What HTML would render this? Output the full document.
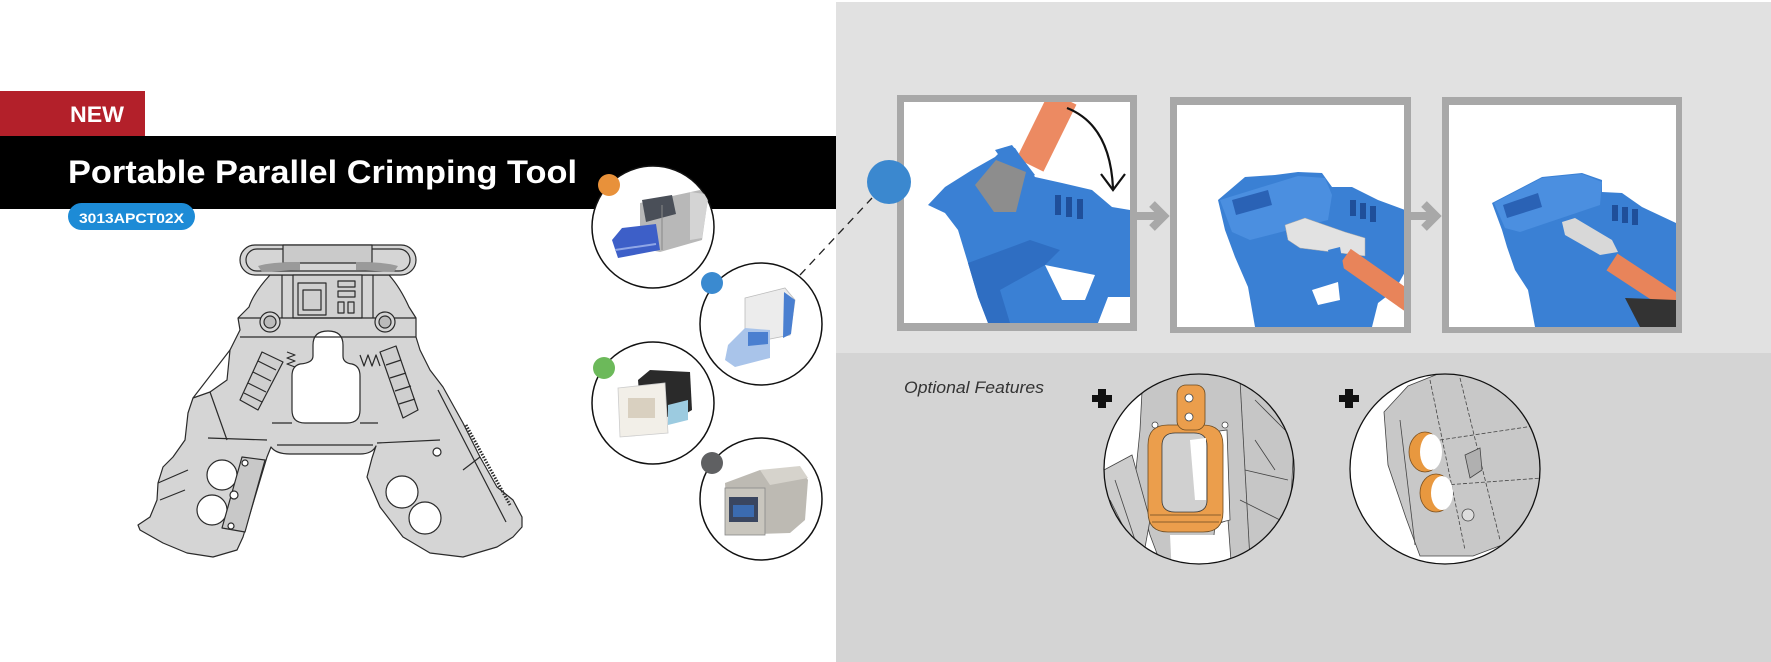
<!DOCTYPE html>
<html><head><meta charset="utf-8"><style>
html,body{margin:0;padding:0;background:#fff;}
svg{display:block;}
text{font-family:"Liberation Sans",sans-serif;}
</style></head><body>
<svg width="1771" height="662" viewBox="0 0 1771 662" xmlns="http://www.w3.org/2000/svg">
<defs>
<clipPath id="c1"><circle cx="653" cy="227" r="61"/></clipPath>
<clipPath id="c2"><circle cx="761" cy="324" r="61"/></clipPath>
<clipPath id="c3"><circle cx="653" cy="403" r="61"/></clipPath>
<clipPath id="c4"><circle cx="761" cy="499" r="61"/></clipPath>
<clipPath id="p1"><rect x="904" y="102" width="226" height="221"/></clipPath>
<clipPath id="p2"><rect x="1177" y="105" width="227" height="222"/></clipPath>
<clipPath id="p3"><rect x="1449" y="105" width="227" height="222"/></clipPath>
<clipPath id="oa"><circle cx="1199" cy="469" r="95"/></clipPath>
<clipPath id="ob"><circle cx="1445" cy="469" r="95"/></clipPath>
</defs>
<rect width="1771" height="662" fill="#fff"/>
<rect x="836" y="2" width="935" height="351" fill="#e1e1e1"/>
<rect x="836" y="353" width="935" height="309" fill="#d4d4d4"/>
<rect x="0" y="136" width="836" height="73" fill="#000"/>
<rect x="0" y="91" width="145" height="45" fill="#b3202a"/>
<text x="70" y="122" font-size="22" font-weight="bold" fill="#fff" textLength="54" lengthAdjust="spacingAndGlyphs">NEW</text>
<text x="68" y="183" font-size="32" font-weight="bold" fill="#fff" textLength="509" lengthAdjust="spacingAndGlyphs">Portable Parallel Crimping Tool</text>
<rect x="68" y="203" width="127" height="27" rx="13.5" fill="#1d8bd6"/>
<text x="79" y="223" font-size="14" font-weight="bold" fill="#fff" textLength="105" lengthAdjust="spacingAndGlyphs">3013APCT02X</text>

<!-- Tool drawing -->
<g stroke="#2a2a2a" stroke-width="1.2" stroke-linejoin="round" fill="#d5d5d5">
<path d="M270,275 C258,288 252,298 249,307 L238,318 L240,330 L230,350 L227,380 L210,392 L193,398 L188,413 L185,440 L173,457 L163,467 L158,483 L157,500 L150,517 L138,525 L140,530 L163,543 L187,553 L213,557 L237,550 L243,537 L267,457 L271,447 Q276,454 290,454 L360,454 Q372,454 376,446 L372,458 L367,477 L380,507 L403,537 L430,553 L463,557 L497,547 L513,537 L522,527 L522,517 L513,500 L497,487 L480,457 L463,423 L443,387 L430,370 L420,350 L416,337 L416,318 L409,307 C404,296 398,285 389,275 Z"/>
<path fill="#fff" d="M313,345 Q313,331 328,331 Q343,331 343,345 L343,356 Q343,363 352,364 Q360,366 360,376 L360,410 Q360,423 347,423 L305,423 Q292,423 292,410 L292,376 Q292,366 300,364 Q313,363 313,356 Z"/>
<rect x="240" y="245" width="176" height="30" rx="15"/>
<rect x="246" y="249" width="164" height="22" rx="11" fill="none"/>
<rect x="283" y="245" width="89" height="18" fill="#cacaca"/>
<path d="M258,266 Q270,262 300,262 L300,270 L262,272 Z M398,266 Q386,262 356,262 L356,270 L394,272 Z" fill="#9a9a9a" stroke="none"/>
<rect x="293" y="275" width="69" height="43" fill="#d0d0d0"/>
<rect x="298" y="283" width="28" height="32" fill="none"/>
<rect x="303" y="290" width="18" height="20" fill="none"/>
<rect x="338" y="281" width="17" height="6" fill="none"/>
<rect x="338" y="291" width="17" height="6" fill="none"/>
<rect x="338" y="302" width="6" height="11" fill="none"/>
<rect x="348" y="302" width="6" height="11" fill="none"/>
<line x1="282" y1="275" x2="282" y2="318"/>
<line x1="373" y1="275" x2="373" y2="318"/>
<line x1="238" y1="318" x2="416" y2="318"/>
<line x1="240" y1="337" x2="416" y2="337"/>
<circle cx="270" cy="322" r="10"/><circle cx="270" cy="322" r="6" fill="#bbb"/>
<circle cx="385" cy="322" r="10"/><circle cx="385" cy="322" r="6" fill="#bbb"/>
<line x1="277" y1="445" x2="373" y2="445"/>
<line x1="272" y1="423" x2="292" y2="423"/>
<line x1="360" y1="423" x2="378" y2="423"/>
<polygon points="262,352 283,362 258,410 240,400" fill="#cfcfcf"/>
<line x1="258" y1="361" x2="276" y2="370"/><line x1="253" y1="372" x2="271" y2="381"/><line x1="248" y1="383" x2="266" y2="392"/><line x1="244" y1="393" x2="262" y2="402"/>
<polygon points="380,352 396,346 418,410 403,418" fill="#cfcfcf"/>
<line x1="386" y1="365" x2="401" y2="360"/><line x1="390" y1="378" x2="406" y2="373"/><line x1="395" y1="391" x2="411" y2="386"/><line x1="399" y1="404" x2="415" y2="399"/>
<polyline points="287,352 295,355 287,358 295,361 287,364 295,367" fill="none"/>
<polyline points="360,355 364,366 368,355 372,366 376,355 380,366" fill="none"/>
<line x1="208" y1="438" x2="267" y2="440"/>
<line x1="377" y1="443" x2="440" y2="440"/>
<line x1="193" y1="398" x2="230" y2="350"/>
<line x1="210" y1="392" x2="227" y2="440"/>
<line x1="438" y1="390" x2="506" y2="522"/>
<line x1="480" y1="457" x2="463" y2="470"/>
<line x1="160" y1="500" x2="185" y2="490"/>
<line x1="158" y1="483" x2="188" y2="470"/>
<circle cx="222" cy="475" r="15" fill="#fff"/>
<circle cx="212" cy="510" r="15" fill="#fff"/>
<circle cx="402" cy="492" r="16" fill="#fff"/>
<circle cx="425" cy="518" r="16" fill="#fff"/>
<polygon points="242,457 265,460 245,532 222,528" fill="#c8c8c8"/>
<circle cx="245" cy="463" r="3" fill="#fff"/>
<circle cx="234" cy="495" r="4" fill="#fff"/>
<circle cx="231" cy="526" r="3" fill="#fff"/>
<circle cx="437" cy="452" r="4" fill="#fff"/>
<path d="M466,425 L510,505" stroke-dasharray="1.5 1.5" stroke-width="3" fill="none"/>
</g>

<!-- product circles -->
<line x1="800" y1="275" x2="872" y2="198" stroke="#222" stroke-width="1.3" stroke-dasharray="8 6"/>
<g stroke="#111" stroke-width="1.5" fill="#fff">
<circle cx="653" cy="227" r="61"/>
<circle cx="761" cy="324" r="61"/>
<circle cx="653" cy="403" r="61"/>
<circle cx="761" cy="499" r="61"/>
</g>
<g clip-path="url(#c1)">
<polygon points="640,203 700,190 708,198 702,240 660,252 640,248" fill="#b8b8b8"/>
<polygon points="690,192 705,194 708,200 702,238 690,240" fill="#d4d4d4"/>
<polygon points="642,200 672,195 676,214 646,222" fill="#4a4f58"/>
<polygon points="612,240 622,228 656,224 660,250 618,258" fill="#3d5fc8"/>
<line x1="615" y1="250" x2="656" y2="244" stroke="#8fa6e6" stroke-width="2"/>
<line x1="662" y1="205" x2="662" y2="250" stroke="#888" stroke-width="1"/>
</g>
<g clip-path="url(#c2)">
<polygon points="745,298 785,288 795,300 790,335 755,342 745,330" fill="#ececec" stroke="#bbb" stroke-width="0.8"/>
<polygon points="784,292 795,300 791,334 783,338" fill="#4a7fd0"/>
<polygon points="728,345 745,328 770,330 770,358 735,367 725,360" fill="#a9c4ea"/>
<polygon points="748,332 768,332 768,344 748,346" fill="#4a7fd0"/>
</g>
<g clip-path="url(#c3)">
<polygon points="638,380 650,370 690,372 692,410 675,420 640,405" fill="#2a2a2a"/>
<polygon points="618,388 665,383 668,433 620,437" fill="#f2efe8" stroke="#ccc" stroke-width="0.8"/>
<rect x="628" y="398" width="27" height="20" fill="#d9d0c0"/>
<polygon points="668,405 688,400 688,420 668,425" fill="#9ccbe0"/>
</g>
<g clip-path="url(#c4)">
<polygon points="725,483 760,470 800,468 808,480 805,520 790,533 728,535" fill="#bdbab3"/>
<polygon points="760,470 800,466 808,478 770,485" fill="#d6d3cc"/>
<rect x="725" y="488" width="40" height="47" fill="#c9c6be" stroke="#888" stroke-width="0.8"/>
<rect x="729" y="497" width="29" height="25" fill="#3a4660"/>
<rect x="733" y="505" width="21" height="12" fill="#3b6bb0"/>
</g>
<circle cx="609" cy="185" r="11" fill="#e8913a"/>
<circle cx="712" cy="283" r="11" fill="#3a8ad0"/>
<circle cx="604" cy="368" r="11" fill="#6cb95a"/>
<circle cx="712" cy="463" r="11" fill="#5f6062"/>

<!-- step panels -->
<rect x="897" y="95" width="240" height="236" fill="#a8a8a8"/>
<rect x="904" y="102" width="226" height="221" fill="#fff"/>
<g clip-path="url(#p1)">
<path d="M928,205 L945,187 L972,170 L995,157 L1005,147 L1015,148 L1035,177 L1062,183 L1092,190 L1112,207 L1130,210 L1130,297 L1108,297 L1098,323 L988,323 L978,297 L968,263 L958,230 L945,213 Z" fill="#3a80d4"/>
<path d="M968,263 L1030,240 L1060,250 L1045,265 L1000,290 L1010,323 L988,323 L978,297 Z" fill="#2f6ec2"/>
<polygon points="1045,265 1095,275 1085,300 1062,300" fill="#fff"/>
<line x1="1063" y1="98" x2="1030" y2="165" stroke="#ec8a62" stroke-width="30"/>
<polygon points="995,150 1012,145 1035,175 1020,185" fill="#3a80d4"/>
<polygon points="975,185 996,160 1026,172 1016,212 994,212" fill="#8d8d8d"/>
<rect x="1055" y="195" width="6" height="20" fill="#1f4f9a"/>
<rect x="1066" y="197" width="6" height="20" fill="#1f4f9a"/>
<rect x="1077" y="199" width="6" height="20" fill="#1f4f9a"/>
<path d="M1067,108 Q1110,125 1113,188" stroke="#111" stroke-width="2.2" fill="none"/>
<polyline points="1101,174 1113,190 1125,174" stroke="#111" stroke-width="2.2" fill="none"/>
</g>

<rect x="1170" y="97" width="241" height="236" fill="#a8a8a8"/>
<rect x="1177" y="105" width="227" height="222" fill="#fff"/>
<g clip-path="url(#p2)">
<path d="M1218,200 L1245,177 L1275,175 L1298,172 L1322,173 L1332,187 L1352,187 L1378,200 L1405,210 L1405,272 L1395,290 L1378,303 L1372,327 L1255,327 L1248,287 L1235,257 L1225,230 Z" fill="#3a80d4"/>
<polygon points="1220,200 1298,176 1325,178 1332,195 1328,220 1250,240 1232,232" fill="#4b8fe0"/>
<polygon points="1232,200 1268,190 1272,205 1236,215" fill="#2a62b5"/>
<polygon points="1285,225 1305,218 1345,232 1365,238 1365,256 1340,253 1300,248 1288,240" fill="#e2e2e2" stroke="#aaa" stroke-width="0.5"/>
<line x1="1345" y1="257" x2="1412" y2="304" stroke="#e8845a" stroke-width="20"/>
<polygon points="1328,250 1340,247 1345,275 1333,278" fill="#3a80d4"/>
<rect x="1350" y="200" width="6" height="16" fill="#1f4f9a"/>
<rect x="1360" y="203" width="6" height="16" fill="#1f4f9a"/>
<rect x="1370" y="206" width="6" height="16" fill="#1f4f9a"/>
<polygon points="1312,290 1338,282 1340,300 1318,305" fill="#fff"/>
</g>

<rect x="1442" y="97" width="240" height="236" fill="#a8a8a8"/>
<rect x="1449" y="105" width="227" height="222" fill="#fff"/>
<g clip-path="url(#p3)">
<path d="M1492,203 L1542,177 L1582,173 L1602,180 L1602,192 L1622,193 L1642,207 L1676,223 L1676,327 L1535,327 L1528,290 L1515,270 L1507,247 L1502,230 Z" fill="#3a80d4"/>
<polygon points="1494,203 1542,178 1582,174 1602,182 1600,205 1520,232 1505,228" fill="#4b8fe0"/>
<polygon points="1503,205 1538,193 1542,207 1507,218" fill="#2a62b5"/>
<polygon points="1562,222 1575,218 1612,240 1618,252 1600,255 1565,235" fill="#d8d8d8"/>
<line x1="1612" y1="262" x2="1682" y2="308" stroke="#e8845a" stroke-width="20"/>
<polygon points="1625,298 1676,300 1676,327 1640,327" fill="#333"/>
<rect x="1612" y="205" width="6" height="16" fill="#1f4f9a"/>
<rect x="1622" y="207" width="6" height="16" fill="#1f4f9a"/>
<rect x="1632" y="209" width="6" height="16" fill="#1f4f9a"/>
</g>

<g stroke="#a8a8a8" stroke-width="8" fill="none">
<line x1="1137" y1="216" x2="1164" y2="216"/>
<polyline points="1152,204 1164,216 1152,228"/>
<line x1="1411" y1="216" x2="1436" y2="216"/>
<polyline points="1424,204 1436,216 1424,228"/>
</g>

<circle cx="889" cy="182" r="22" fill="#3b88cf"/>

<!-- optional features -->
<text x="904" y="393" font-size="17" font-style="italic" fill="#333" textLength="140" lengthAdjust="spacingAndGlyphs">Optional Features</text>
<rect x="1092" y="395" width="20" height="7" fill="#111"/>
<rect x="1098" y="389" width="8" height="19" fill="#111"/>
<rect x="1339" y="395" width="20" height="7" fill="#111"/>
<rect x="1345" y="389" width="8" height="19" fill="#111"/>

<circle cx="1199" cy="469" r="95" fill="#fff"/>
<g clip-path="url(#oa)" stroke="#444" stroke-width="0.8">
<polygon points="1143,372 1280,372 1294,440 1290,520 1262,575 1232,575 1228,520 1215,525 1210,575 1165,575 1150,535 1135,480 1140,430" fill="#c6c6c6"/>
<polygon points="1104,470 1132,455 1150,520 1140,575 1104,575" fill="#cdcdcd"/>
<polygon points="1212,432 1227,430 1230,520 1214,524" fill="#fff"/>
<polygon points="1170,535 1225,535 1222,575 1172,575" fill="#fff" stroke="none"/>
<line x1="1240" y1="380" x2="1250" y2="560"/>
<line x1="1255" y1="400" x2="1285" y2="430"/>
<line x1="1245" y1="470" x2="1288" y2="480"/>
<line x1="1110" y1="500" x2="1140" y2="560"/>
<line x1="1115" y1="480" x2="1135" y2="540"/>
<line x1="1255" y1="440" x2="1275" y2="470"/>
<line x1="1240" y1="500" x2="1280" y2="520"/>
<path fill-rule="evenodd" d="M1168,425 L1203,425 Q1223,425 1223,445 L1223,512 Q1223,532 1203,532 L1168,532 Q1148,532 1148,512 L1148,445 Q1148,425 1168,425 Z M1175,433 Q1162,433 1162,446 L1162,500 Q1162,512 1175,512 L1194,512 Q1207,512 1207,500 L1207,446 Q1207,433 1194,433 Z" fill="#eb9e4c" stroke="#6a4a20"/>
<path d="M1175,433 Q1162,433 1162,446 L1162,500 Q1162,512 1175,512 L1194,512 Q1207,512 1207,500 L1207,446 Q1207,433 1194,433 Z" fill="#d0d0d0"/>
<polygon points="1190,440 1206,438 1206,500 1195,500" fill="#fff" stroke="none"/>
<line x1="1150" y1="515" x2="1221" y2="515" stroke="#6a4a20"/>
<line x1="1152" y1="522" x2="1219" y2="522" stroke="#6a4a20"/>
<rect x="1177" y="385" width="28" height="45" rx="9" fill="#eb9e4c" stroke="#6a4a20"/>
<circle cx="1189" cy="398" r="4" fill="#fff"/>
<circle cx="1189" cy="417" r="4" fill="#fff"/>
<circle cx="1155" cy="425" r="3" fill="#fff"/>
<circle cx="1225" cy="425" r="3" fill="#fff"/>
</g>
<circle cx="1199" cy="469" r="95" fill="none" stroke="#111" stroke-width="1.3"/>

<circle cx="1445" cy="469" r="95" fill="#fff"/>
<g clip-path="url(#ob)" stroke="#444" stroke-width="0.8">
<polygon points="1384,412 1408,386 1443,372 1495,378 1530,415 1545,465 1542,510 1510,542 1473,556 1420,556 1406,518 1388,465" fill="#c8c8c8"/>
<line x1="1430" y1="380" x2="1465" y2="550" stroke-dasharray="4 2"/>
<line x1="1460" y1="378" x2="1500" y2="540" stroke-dasharray="4 2"/>
<line x1="1440" y1="440" x2="1540" y2="425" stroke-dasharray="4 2"/>
<line x1="1445" y1="485" x2="1542" y2="478" stroke-dasharray="4 2"/>
<line x1="1400" y1="420" x2="1415" y2="545"/>
<polygon points="1465,455 1480,448 1482,470 1470,478" fill="#b0b0b0"/>
<ellipse cx="1425" cy="452" rx="16" ry="20" fill="#e8983f" stroke="#7a5020"/>
<ellipse cx="1431" cy="452" rx="11" ry="18" fill="#fff" stroke="none"/>
<ellipse cx="1436" cy="493" rx="16" ry="19" fill="#e8983f" stroke="#7a5020"/>
<ellipse cx="1442" cy="493" rx="11" ry="17" fill="#fff" stroke="none"/>
<circle cx="1468" cy="515" r="6" fill="#ddd"/>
</g>
<circle cx="1445" cy="469" r="95" fill="none" stroke="#111" stroke-width="1.3"/>
</svg>
</body></html>
